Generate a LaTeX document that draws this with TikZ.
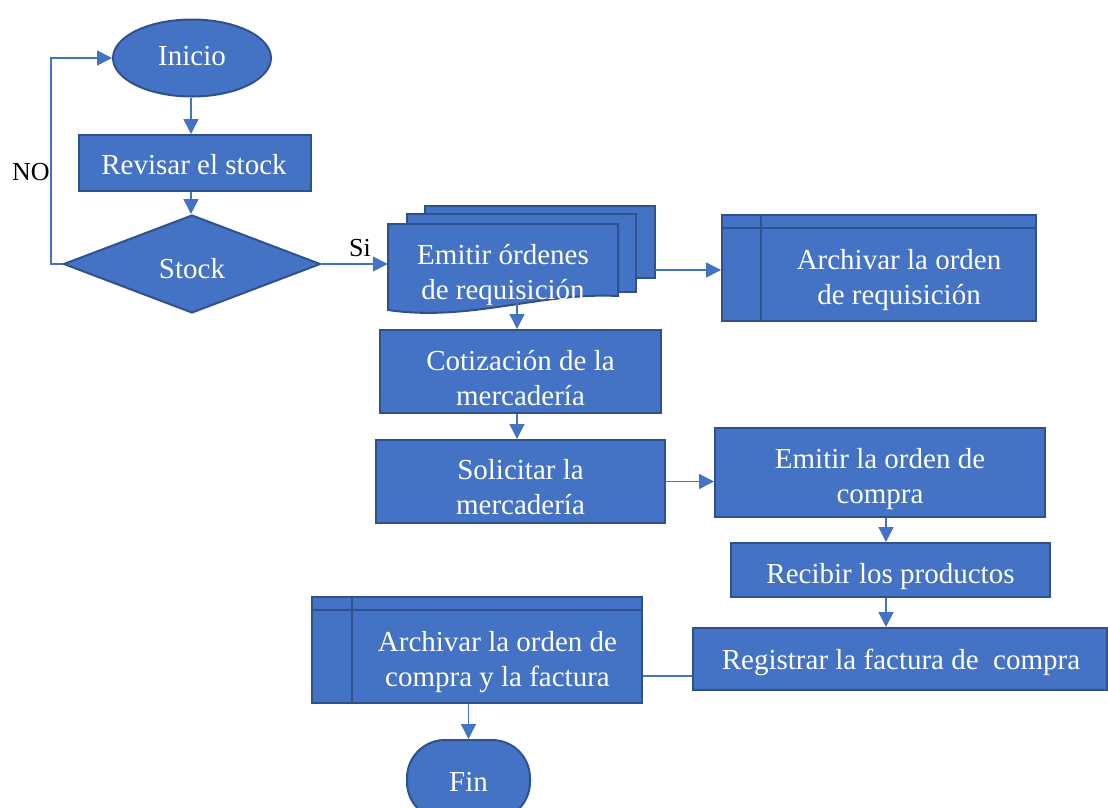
\documentclass[tikz,border=0pt]{standalone}
\usepackage{fontspec}
\setmainfont{Liberation Serif}
\usetikzlibrary{shapes.geometric,arrows.meta,calc}
\definecolor{fillc}{HTML}{4472C4}
\definecolor{edgec}{HTML}{2F528F}
\begin{document}
\begin{tikzpicture}[x=1pt,y=-1pt,
  shapebox/.style={draw=edgec,fill=fillc,line width=2pt,inner sep=0pt},
  txt/.style={text=white,font=\fontsize{29}{35}\selectfont,align=center,inner sep=0pt},
  inner/.style={draw=edgec,line width=2pt},
  conn/.style={draw=fillc,line width=1.5pt},
  arr/.style={conn,-{Triangle[length=15pt,width=15pt]}},
  lab/.style={font=\fontsize{26}{30}\selectfont,text=black,inner sep=0pt}]
\useasboundingbox (0,0) rectangle (1108,807);

% shapes
\node[shapebox,ellipse,minimum width=158pt,minimum height=77pt] (inicio) at (192,58) {};
\node[txt] (iniciot) at (192,56) {Inicio};
\node[shapebox,minimum width=232pt,minimum height=56pt] (revisar) at (195,163) {};
\node[txt] (revisart) at (194,165) {Revisar el stock};
\node[shapebox,diamond,minimum width=257pt,minimum height=98pt] (stock) at (192,264) {};
\node[txt] (stockt) at (192,269) {Stock};

% multi-document
\path[shapebox] (425,206) rectangle (655,278);
\path[shapebox] (407,214) rectangle (636,292);
\path[shapebox] (388,224) -- (618,224) -- (618,296)
   .. controls (540,292) and (470,322) .. (388,310) -- cycle;
\node[minimum width=267pt,minimum height=107pt,inner sep=0pt] (md) at (521.5,259.5) {};
\node[txt] (emitir) at (503,275) {Emitir órdenes\\de requisición};
\coordinate (mdB) at (517,302);

\node[shapebox,minimum width=314pt,minimum height=106pt] (arch1) at (879,268) {};
\draw[inner] ($(arch1.north west)+(0,14)$) -- ($(arch1.north east)+(0,14)$);
\draw[inner] ($(arch1.north west)+(40,0)$) -- ($(arch1.south west)+(40,0)$);
\node[txt] (arch1t) at (899,280) {Archivar la orden\\de requisición};

\node[shapebox,minimum width=281pt,minimum height=83pt] (cotiz) at (520.5,371.5) {};
\node[txt] (cotizt) at (520.5,378) {Cotización de la\\mercadería};
\node[shapebox,minimum width=289pt,minimum height=83pt] (solic) at (520.5,481.5) {};
\node[txt] (solict) at (520.5,487) {Solicitar la\\mercadería};
\node[shapebox,minimum width=330pt,minimum height=89pt] (emcomp) at (880,472.5) {};
\node[txt] (emcompt) at (880,479) {Emitir la orden de\\compra};
\node[shapebox,minimum width=319pt,minimum height=54pt] (recv) at (890.5,570) {};
\node[txt] (recvt) at (890.5,577) {Recibir los productos};
\node[shapebox,minimum width=414pt,minimum height=62pt] (reg) at (900,659) {};
\node[txt] (regt) at (901,662) {Registrar la factura de~ compra};

\node[shapebox,minimum width=330pt,minimum height=106pt] (arch2) at (477,650) {};
\draw[inner] ($(arch2.north west)+(0,14)$) -- ($(arch2.north east)+(0,14)$);
\draw[inner] ($(arch2.north west)+(41,0)$) -- ($(arch2.south west)+(41,0)$);
\node[txt] (arch2t) at (497.5,662) {Archivar la orden de\\compra y la factura};

\node[shapebox,rounded corners=38pt,minimum width=123pt,minimum height=80pt] (fin) at (468.5,780) {};
\node[txt] (fint) at (468.5,782) {Fin};

% labels
\node[lab] (no) at (31,172) {NO};
\node[lab] (si) at (360,248) {Si};

% connectors
\coordinate (noX) at (51,0);
\coordinate (ax) at (191,0);
\coordinate (cx) at (886,0);
\coordinate (cy) at (0,676);
\draw[arr] (inicio.south -| ax) -- (revisar.north -| ax);
\draw[arr] (revisar.south -| ax) -- (stock.north -| ax);
\draw[arr] (stock.west) -- (stock.west -| noX) |- (inicio.west);
\draw[arr] (stock.east) -- (stock.east -| md.west);
\draw[arr] (md.east |- 0,270) -- (arch1.west |- 0,270);
\draw[arr] (mdB) -- (mdB |- cotiz.north);
\draw[arr] (mdB |- cotiz.south) -- (mdB |- solic.north);
\draw[arr] (solic.east) -- (solic.east -| emcomp.west);
\draw[arr] (emcomp.south -| cx) -- (recv.north -| cx);
\draw[arr] (recv.south -| cx) -- (reg.north -| cx);
\draw[conn] (reg.west |- cy) -- (arch2.east |- cy);
\draw[arr] (arch2.south -| fin.north) -- (fin.north);
\end{tikzpicture}
\end{document}
